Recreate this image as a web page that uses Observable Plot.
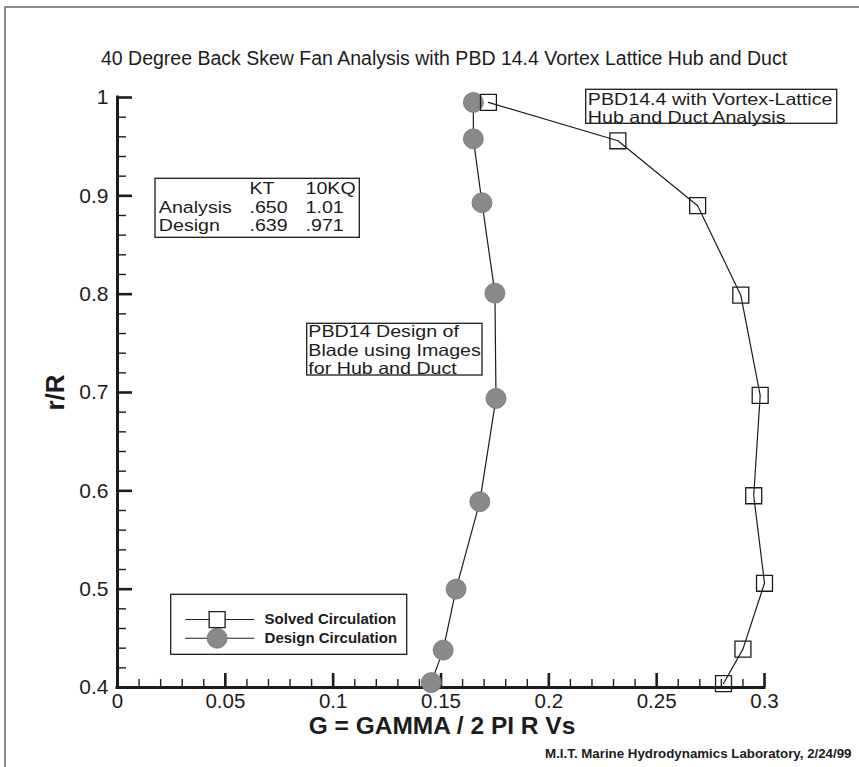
<!DOCTYPE html>
<html><head><meta charset="utf-8">
<script src="https://cdn.jsdelivr.net/npm/d3@7"></script>
<script src="https://cdn.jsdelivr.net/npm/@observablehq/plot@0.6"></script>
<style>
html,body{margin:0;padding:0;background:#fff;overflow:hidden;}
#wrap{position:relative;width:859px;height:767px;}
#border{position:absolute;left:4px;top:6px;width:900px;height:900px;border:2px solid #8c8c8c;box-sizing:border-box;pointer-events:none;}
</style></head><body><div id="wrap"><div id="border"></div></div>
<script>
// ---- data ----
const titleText = "40 Degree Back Skew Fan Analysis with PBD 14.4 Vortex Lattice Hub and Duct";
const xLabel = "G = GAMMA / 2 PI R Vs";
const yLabel = "r/R";
const caption = "M.I.T. Marine Hydrodynamics Laboratory, 2/24/99";

const xTicks = [0, 0.05, 0.1, 0.15, 0.2, 0.25, 0.3];
const xTickLabels = ["0", "0.05", "0.1", "0.15", "0.2", "0.25", "0.3"];
const yTicks = [0.4, 0.5, 0.6, 0.7, 0.8, 0.9, 1];
const yTickLabels = ["0.4", "0.5", "0.6", "0.7", "0.8", "0.9", "1"];

// Solved Circulation (squares)
const solvedR = [0.995, 0.956, 0.890, 0.799, 0.697, 0.595, 0.506, 0.439, 0.404];
const solvedG = [0.172, 0.232, 0.269, 0.289, 0.298, 0.295, 0.300, 0.290, 0.281];
// Design Circulation (circles)
const designR = [0.995, 0.958, 0.893, 0.801, 0.694, 0.589, 0.500, 0.438, 0.405];
const designG = [0.165, 0.165, 0.169, 0.175, 0.1755, 0.168, 0.157, 0.151, 0.1455];

const legendLabels = ["Solved Circulation", "Design Circulation"];
const tableHeader = ["", "KT", "10KQ"];
const tableRows = [["Analysis", ".650", "1.01"], ["Design", ".639", ".971"]];
const noteDesign = ["PBD14 Design of", "Blade using Images", "for Hub and Duct"];
const noteAnalysis = ["PBD14.4 with Vortex-Lattice", "Hub and Duct Analysis"];

// ---- build ----
const solved = solvedR.map((r, i) => ({r, g: solvedG[i]}));
const design = designR.map((r, i) => ({r, g: designG[i]}));
const xMinor = d3.range(1, 30).filter(i => i % 5).map(i => i / 100);
const yMinor = d3.range(40, 100, 2).filter(i => i % 10).map(i => i / 100);
const tableCells = [tableHeader, ...tableRows].flatMap((row, r) => row.map((text, c) => ({text, r, c}))).filter(d => d.text);
const noteDesignLines = noteDesign.map((text, i) => ({text, i}));
const noteAnalysisLines = noteAnalysis.map((text, i) => ({text, i}));

const ink = "#1c1c1c";
const box = (x1, x2, y1, y2) => Plot.rect([{x1, x2, y1, y2}], {x1: "x1", x2: "x2", y1: "y1", y2: "y2", fill: "white", stroke: ink, strokeWidth: 1.3});

const chart = Plot.plot({
  width: 859, height: 767,
  marginLeft: 117, marginRight: 95, marginTop: 97, marginBottom: 80,
  style: {fontFamily: "'Liberation Sans', Arial, Helvetica, sans-serif", color: ink, background: "transparent", overflow: "visible"},
  x: {domain: [0, 0.3]},
  y: {domain: [0.4, 1]},
  marks: [
    // annotation boxes
    box(0.01762, 0.11235, 0.91732, 0.85732),
    box(0.08796, 0.16924, 0.76986, 0.71728),
    box(0.21732, 0.33371, 1.00783, 0.97325),
    box(0.0249, 0.13433, 0.49426, 0.43323),
    // ticks
    Plot.tickX(xTicks, {insetTop: 576, stroke: ink, strokeWidth: 2.6}),
    Plot.tickX(xMinor, {insetTop: 582, stroke: ink, strokeWidth: 1.4}),
    Plot.tickY(yTicks, {insetRight: 632, stroke: ink, strokeWidth: 2.6}),
    Plot.tickY(yMinor, {insetRight: 638, stroke: ink, strokeWidth: 1.4}),
    Plot.ruleX([0], {stroke: ink, strokeWidth: 3, strokeLinecap: "square"}),
    Plot.ruleY([0.4], {stroke: ink, strokeWidth: 3, strokeLinecap: "square"}),
    Plot.axisX(xTicks, {anchor: "bottom", tickSize: 0, tickPadding: 6, fontSize: 20.5, label: null,
      tickFormat: d => xTickLabels[xTicks.indexOf(d)]}),
    Plot.axisY(yTicks, {anchor: "left", tickSize: 0, tickPadding: 9, fontSize: 21, label: null,
      tickFormat: d => yTickLabels[yTicks.indexOf(d)]}),
    // series
    Plot.line(solved, {x: "g", y: "r", stroke: ink, strokeWidth: 1.2}),
    Plot.line(design, {x: "g", y: "r", stroke: ink, strokeWidth: 1.2}),
    Plot.dot(design, {x: "g", y: "r", r: 10, fill: "#8a8a8a", stroke: "#747474", strokeWidth: 0.8}),
    Plot.dot(solved, {x: "g", y: "r", r: 9, symbol: "square", fill: "none", stroke: ink, strokeWidth: 1.3}),
    // legend
    Plot.ruleY(legendLabels, {y: (d, i) => [0.4691, 0.4501][i], x1: 0.0317, x2: 0.0637, stroke: ink, strokeWidth: 1}),
    Plot.dot(legendLabels.slice(1), {x: () => 0.0462, y: () => 0.4501, r: 10, fill: "#8a8a8a", stroke: "#747474", strokeWidth: 0.8}),
    Plot.dot(legendLabels.slice(0, 1), {x: () => 0.0462, y: () => 0.4691, r: 9, symbol: "square", fill: "white", stroke: ink, strokeWidth: 1.3}),
    Plot.text(legendLabels, {x: () => 0.0682, y: (d, i) => [0.4691, 0.4501][i], text: d => d, textAnchor: "start", fontSize: 15, fontWeight: "bold"}),
    // table
    Plot.text(tableCells, {x: d => [0.01915, 0.06121, 0.08718][d.c], y: d => [0.90756, 0.88844, 0.86932][d.r], text: "text", textAnchor: "start", fontSize: 16.8}),
    // notes
    Plot.text(noteDesignLines, {x: () => 0.0885, y: d => [0.76162, 0.74281, 0.72399][d.i], text: "text", textAnchor: "start", fontSize: 16.5}),
    Plot.text(noteAnalysisLines, {x: () => 0.2181, y: d => [0.99797, 0.97915][d.i], text: "text", textAnchor: "start", fontSize: 16.5}),
    // titles
    Plot.text([titleText], {frameAnchor: "top", dx: 3, dy: -46, fontSize: 19.5}),
    Plot.text([xLabel], {frameAnchor: "bottom", dx: 1, dy: 46, fontSize: 24.5, fontWeight: "bold"}),
    Plot.text([yLabel], {x: () => -0.0285, y: () => 0.7, rotate: -90, fontSize: 26, fontWeight: "bold"}),
    Plot.text([caption], {frameAnchor: "bottom-right", dx: 87, dy: 70.7, textAnchor: "end", fontSize: 13.3, fontWeight: "bold"})
  ]
});
document.getElementById("wrap").appendChild(chart);
chart.style.position = "absolute";
chart.style.left = "0";
chart.style.top = "0";

// widen the annotation lettering to the reference's broad face
const stretch = new Map([
  ...tableCells.map(d => [d.text, 1.17]),
  ...noteDesign.map(t => [t, 1.19]),
  ...noteAnalysis.map(t => [t, 1.19])
]);
chart.querySelectorAll("text").forEach(t => {
  const k = stretch.get(t.textContent);
  if (k && !t.querySelector("tspan")) {
    t.setAttribute("textLength", (t.getComputedTextLength() * k).toFixed(1));
    t.setAttribute("lengthAdjust", "spacingAndGlyphs");
  }
});
</script>
</body></html>
